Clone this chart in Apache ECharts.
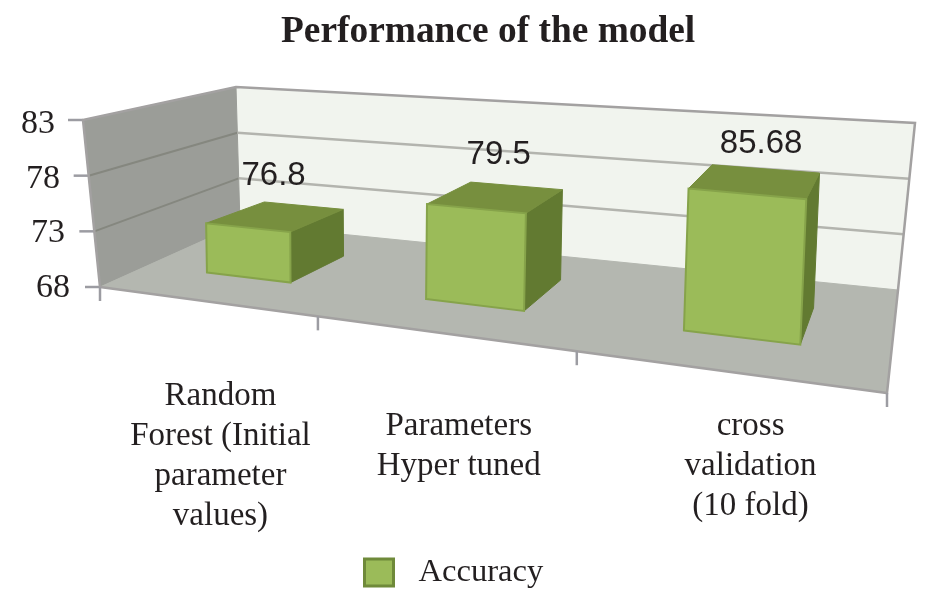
<!DOCTYPE html>
<html><head><meta charset="utf-8">
<style>html,body{margin:0;padding:0;background:#fff}#c{width:935px;height:596px}</style>
<script src="https://cdn.jsdelivr.net/npm/echarts@6/dist/echarts.min.js"></script>
</head><body><div id="c"></div>
<script>
const chartTitle = 'Performance of the model';
const seriesName = 'Accuracy';
const categories = ['Random\nForest (Initial\nparameter\nvalues)', 'Parameters\nHyper tuned', 'cross\nvalidation\n(10 fold)'];
// Height of each block as read against the axis of the picture
const plottedHeights = [72.6, 76.3, 79.6];
// Numbers printed above the blocks
const printedValues = ['76.8', '79.5', '85.68'];
const yTicks = [68, 73, 78, 83];

const SERIF = '"Liberation Serif","Times New Roman",serif';
const SANS = '"Liberation Sans",Arial,sans-serif';
const INK = '#231f20';
const pad = {83: 15, 78: 10, 73: 5, 68: 0};

// Scene projection: corners of the 3-D box as seen in the picture
function homography(q) {
  const [[x0,y0],[x1,y1],[x2,y2],[x3,y3]] = q;
  const dx1=x1-x2, dx2=x3-x2, sx=x0-x1+x2-x3, dy1=y1-y2, dy2=y3-y2, sy=y0-y1+y2-y3;
  const den=dx1*dy2-dx2*dy1, g=(sx*dy2-dx2*sy)/den, h=(dx1*sy-sx*dy1)/den;
  const a=x1-x0+g*x1, b=x3-x0+h*x3, d=y1-y0+g*y1, e=y3-y0+h*y3;
  return (u,v)=>{const w=g*u+h*v+1; return [(a*u+b*v+x0)/w,(d*u+e*v+y0)/w];};
}
function projector(floorQuad,topQuad){
  const Hf=homography(floorQuad),Ht=homography(topQuad);
  return (u,h,d)=>{const f=Hf(u,d),t=Ht(u,d);return [f[0]+h*(t[0]-f[0]),f[1]+h*(t[1]-f[1])];};
}
// The box frame leans outwards; the blocks stand almost upright on a slightly shifted floor
const P = projector([[100,287],[887,393],[898,290],[240,224]],[[83,120],[907,190],[915,123],[236,87]]);
const barFloor = homography([[91,287],[889,393],[901,290],[254,224]]);
function B(u,h,d){
  const f=barFloor(u,d);
  const rise=P(u,1,d)[1]-P(u,0,d)[1];
  return [f[0]+h*(13*u-4),f[1]+h*rise];
}
const norm = (params,pt)=>{const c=params.coordSys;return [(pt[0]-c.x)/c.width,(c.y+c.height-pt[1])/c.height];};
const poly=(points,fill,stroke,lw)=>({type:'polygon',shape:{points},style:{fill,stroke:stroke||fill,lineWidth:lw||1}});
const line=(points,stroke,lw)=>({type:'polyline',shape:{points},style:{fill:'none',stroke,lineWidth:lw}});

const barFrac=0.40, dFront=0.30, dBack=0.68;
const labelDx=[19,24,31], labelTop=[376,406,406];
const valueDx=[-3,2,5], valueDy=[-40,-42,-37];
const xTickU=[0,0.341,0.675,1];

function renderScene(params,api){
  const kids=[
    poly([P(0,0,1),P(1,0,1),P(1,1,1),P(0,1,1)],'#f1f4ee'),
    poly([P(0,0,0),P(0,0,1),P(0,1,1),P(0,1,0)],'#9b9d98'),
    poly([P(0,0,0),P(1,0,0),P(1,0,1),P(0,0,1)],'#b4b7b0')
  ];
  yTicks.forEach(v=>{
    const h=norm(params,api.coord([0,v]))[1];
    if(v>yTicks[0]&&v<yTicks[yTicks.length-1]){
      kids.push(line([P(0,h,0),P(0,h,1)],'#85877f',2));
      kids.push(line([P(0,h,1),P(1,h,1)],'#b3b4ae',2.5));
    }
    const a=P(0,h,0);
    kids.push(line([[a[0]-15,a[1]],a],'#9c9ca2',2.5));
  });
  kids.push(line([P(0,0,0),P(0,1,0),P(0,1,1),P(1,1,1),P(1,0,1),P(1,0,0),P(0,0,0)],'#a3a1a1',2.5));
  xTickU.forEach(u=>{const a=P(u,0,0);kids.push(line([a,[a[0],a[1]+14]],'#9c9ca2',2.5));});
  return {type:'group',children:kids};
}
function renderBar(params,api){
  const i=api.value(0);
  const p=norm(params,api.coord([i,api.value(1)]));
  const bw=api.size([1,0])[0]/params.coordSys.width*barFrac;
  const u0=p[0]-bw/2,u1=p[0]+bw/2,h=p[1];
  const tc=B(p[0],h,(dFront+dBack)/2);
  return {type:'group',children:[
    poly([B(u1,0,dFront),B(u1,0,dBack),B(u1,h,dBack),B(u1,h,dFront)],'#627a31'),
    poly([B(u0,h,dFront),B(u1,h,dFront),B(u1,h,dBack),B(u0,h,dBack)],'#778f3e'),
    poly([B(u0,0,dFront),B(u1,0,dFront),B(u1,h,dFront),B(u0,h,dFront)],'#9bbb59','#86a34a',2),
    {type:'text',style:{text:printedValues[i],x:tc[0]+valueDx[i],y:tc[1]+valueDy[i],fill:INK,fontFamily:SANS,fontSize:33,align:'center',verticalAlign:'middle'}}
  ]};
}
function renderCatLabel(params,api){
  const i=api.value(0);
  const u=norm(params,api.coord([i,68]))[0];
  const a=P(u,0,0);
  return {type:'text',style:{text:categories[i],x:a[0]+labelDx[i],y:labelTop[i],fill:INK,fontFamily:SERIF,fontSize:33,lineHeight:40,align:'center',verticalAlign:'top'}};
}

const rich={};
yTicks.forEach(v=>{rich['s'+v]={fontFamily:SERIF,fontSize:34,color:INK,padding:[4,pad[v],0,0],align:'right'};});

const chart=echarts.init(document.getElementById('c'),null,{renderer:'canvas'});
chart.setOption({
  animation:false,
  backgroundColor:'#fff',
  title:{text:chartTitle,left:281,top:14,padding:0,textStyle:{fontFamily:SERIF,fontWeight:'bold',fontSize:37.4,color:INK}},
  legend:{data:[seriesName],left:363,top:556,padding:0,itemWidth:29,itemHeight:27,icon:'rect',
    itemStyle:{borderColor:'#6f8a3a',borderWidth:3},
    textStyle:{fontFamily:SERIF,fontSize:32.6,color:INK,padding:[3,0,0,20]}},
  grid:{left:70,top:122,width:830,height:164},
  xAxis:{type:'category',data:categories,show:false},
  yAxis:{type:'value',min:68,max:83,interval:5,
    axisLine:{show:false},axisTick:{show:false},splitLine:{show:false},
    axisLabel:{margin:0,formatter:v=>`{s${v}|${v}}`,rich}},
  series:[
    {type:'custom',name:'scene',data:[[0,68]],renderItem:renderScene,silent:true,z:1,clip:false},
    {type:'custom',name:seriesName,itemStyle:{color:'#9bbb59'},z:2,clip:false,renderItem:renderBar,
      encode:{x:0,y:1},data:plottedHeights.map((v,i)=>[i,v])},
    {type:'custom',name:'catLabels',data:categories.map((c,i)=>[i,68]),renderItem:renderCatLabel,silent:true,z:3,clip:false}
  ]
});
</script></body></html>
